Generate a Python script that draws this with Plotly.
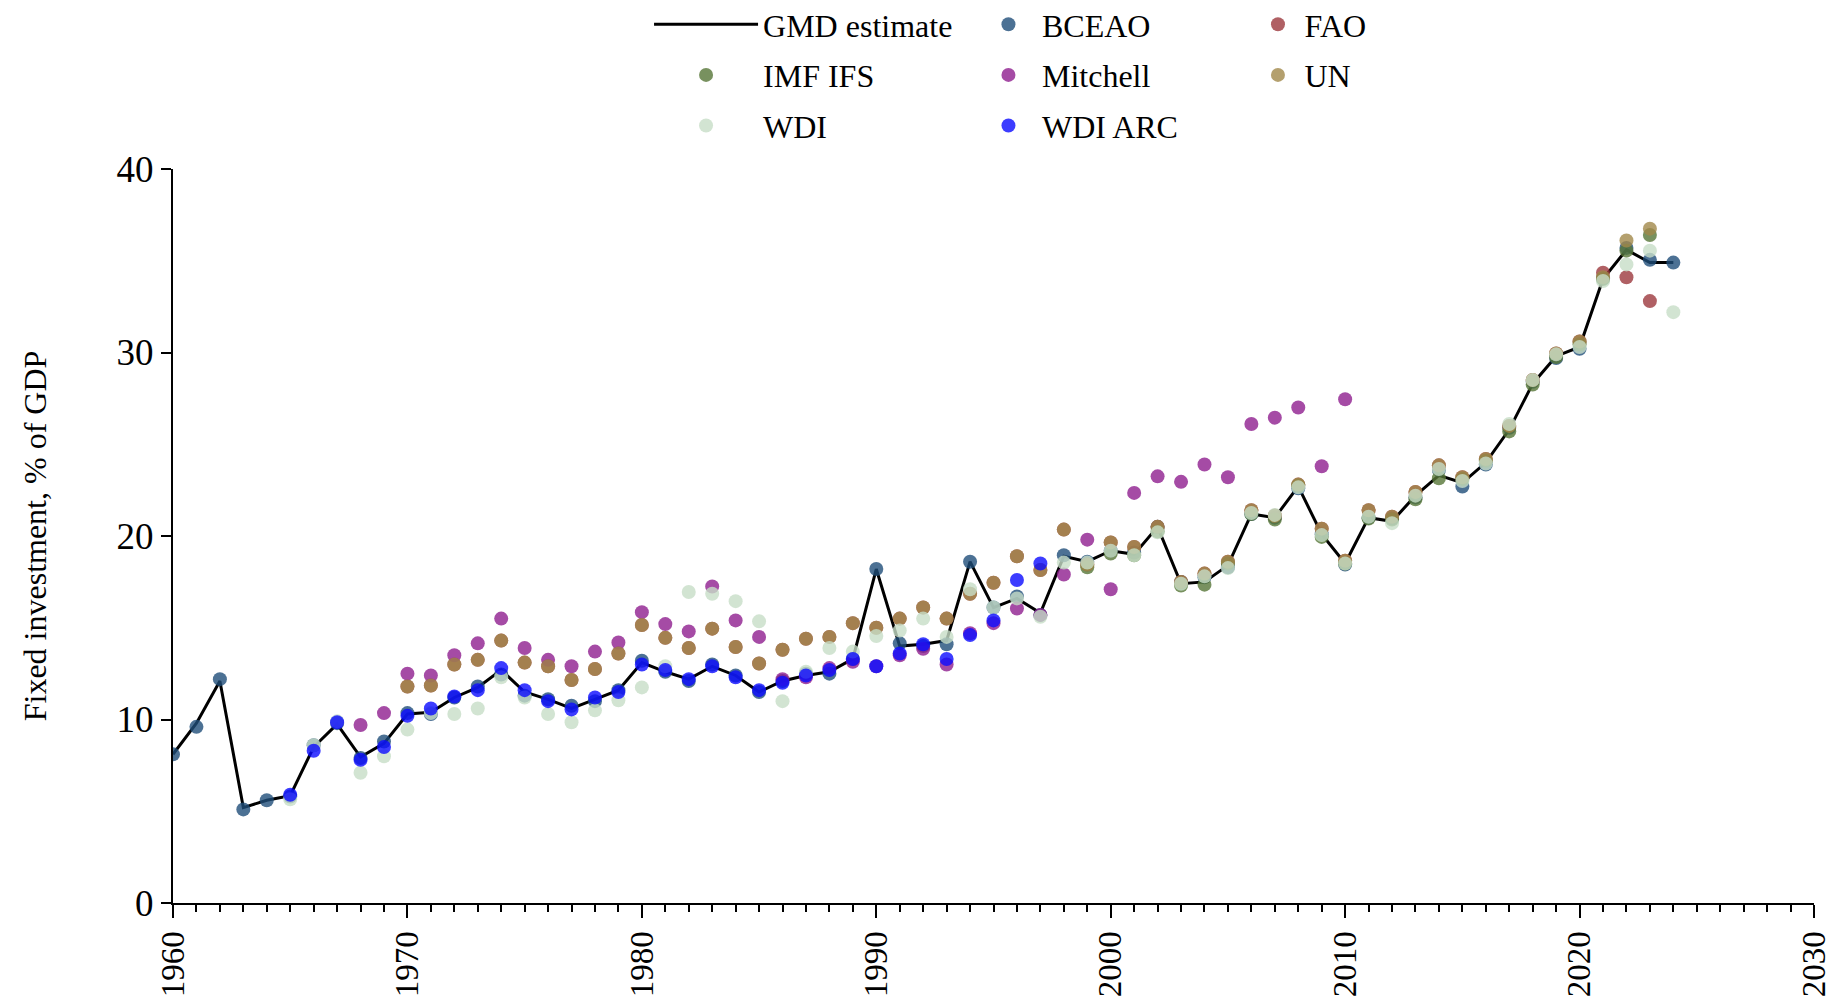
import plotly.graph_objects as go

# ---------------- data ----------------
gmd_years = list(range(1960, 2025))
gmd_values = [8.1, 9.8, 12.1, 5.2, 5.6, 5.85, 8.5, 9.75, 7.95, 8.7,
              10.3, 10.4, 11.2, 11.75, 12.7, 11.5, 11.1, 10.6, 11.1, 11.6,
              13.1, 12.6, 12.2, 12.9, 12.4, 11.5, 12.1, 12.4, 12.6, 13.3,
              18.2, 14.0, 14.1, 14.3, 18.6, 16.1, 16.6, 15.8, 18.9, 18.6,
              19.2, 19.0, 20.5, 17.4, 17.5, 18.4, 21.2, 21.0, 22.7, 20.1,
              18.5, 21.0, 20.8, 22.2, 23.3, 22.9, 24.0, 25.8, 28.3, 29.8,
              30.3, 34.0, 35.6, 34.9, 34.9]

bceao_years = list(range(1960, 2025))
bceao_values = [8.1, 9.6, 12.2, 5.1, 5.6, 5.8, 8.6, 9.8, 7.9, 8.8,
                10.35, 10.3, 11.2, 11.8, 12.45, 11.3, 11.1, 10.75, 11.0, 11.6,
                13.2, 12.6, 12.1, 13.0, 12.4, 11.5, 12.1, 12.5, 12.5, 13.3,
                18.2, 14.15, 14.0, 14.1, 18.6, 16.1, 16.7, 15.7, 18.95, 18.6,
                19.2, 19.1, 20.5, 17.5, 17.75, 18.3, 21.2, 21.0, 22.6, 20.1,
                18.45, 21.0, 20.95, 22.1, 23.6, 22.7, 23.9, 25.9, 28.4, 29.7,
                30.2, 34.05, 35.7, 35.05, 34.9]

fao_years = list(range(1970, 2024))
fao_values = [11.8, 11.85, 13.0, 13.25, 14.3, 13.1, 12.9, 12.15, 12.75, 13.6,
              15.15, 14.45, 13.9, 14.95, 13.95, 13.05, 13.8, 14.4, 14.5, 15.25,
              15.0, 15.5, 16.1, 15.5, 16.85, 17.45, 18.9, 18.15, 20.35, 18.45,
              19.65, 19.4, 20.5, 17.5, 17.95, 18.6, 21.4, 21.1, 22.8, 20.4,
              18.65, 21.4, 21.05, 22.4, 23.85, 23.2, 24.2, 26.0, 28.5, 29.95,
              30.6, 34.35, 34.1, 32.8]

imf_years = list(range(1999, 2024))
imf_values = [18.3, 19.05, 18.95, 20.25, 17.3, 17.35, 18.5, 21.2, 20.9, 22.75,
              19.95, 18.5, 20.95, 20.9, 22.0, 23.15, 23.1, 24.1, 25.7, 28.25,
              29.75, 30.45, 34.0, 35.55, 36.4]

mitchell_years = list(range(1968, 2011))
mitchell_values = [9.7, 10.35, 12.5, 12.4, 13.5, 14.15, 15.5, 13.9, 13.25, 12.9,
                   13.7, 14.2, 15.85, 15.2, 14.8, 17.25, 15.4, 14.5, 12.2, 12.3,
                   12.8, 13.15, 12.9, 13.5, 13.85, 13.0, 14.7, 15.25, 16.05, 15.7,
                   17.9, 19.8, 17.1, 22.35, 23.25, 22.95, 23.9, 23.2, 26.1, 26.45,
                   27.0, 23.8, 27.45]

un_years = list(range(1970, 2024))
un_values = [11.8, 11.85, 13.0, 13.25, 14.3, 13.1, 12.9, 12.15, 12.75, 13.6,
             15.15, 14.45, 13.9, 14.95, 13.95, 13.05, 13.8, 14.4, 14.5, 15.25,
             15.0, 15.5, 16.1, 15.5, 16.85, 17.45, 18.9, 18.15, 20.35, 18.45,
             19.65, 19.4, 20.5, 17.5, 17.95, 18.6, 21.4, 21.1, 22.8, 20.4,
             18.65, 21.4, 21.05, 22.4, 23.85, 23.2, 24.2, 26.0, 28.5, 29.95,
             30.6, 34.1, 36.1, 36.75]

wdi_years = list(range(1965, 2025))
wdi_values = [5.65, 8.6, 9.9, 7.1, 8.0, 9.45, 10.35, 10.3, 10.6, 12.3,
              11.2, 10.3, 9.85, 10.5, 11.05, 11.75, 12.9, 16.95, 16.85, 16.45,
              15.35, 11.0, 12.6, 13.9, 13.7, 14.55, 14.85, 15.5, 14.5, 17.1,
              16.1, 16.6, 15.6, 18.55, 18.55, 19.2, 18.95, 20.2, 17.4, 17.8,
              18.25, 21.25, 21.15, 22.65, 20.05, 18.5, 21.05, 20.7, 22.2, 23.65,
              23.0, 23.95, 26.1, 28.5, 29.9, 30.3, 33.9, 34.8, 35.55, 32.2]

wdiarc_years = list(range(1965, 1998))
wdiarc_values = [5.9, 8.3, 9.85, 7.8, 8.5, 10.2, 10.6, 11.25, 11.6, 12.8,
                 11.6, 11.0, 10.55, 11.2, 11.5, 13.0, 12.7, 12.2, 12.9, 12.3,
                 11.6, 12.0, 12.4, 12.7, 13.3, 12.9, 13.6, 14.1, 13.3, 14.6,
                 15.4, 17.6, 18.5]

x_tick_values = [1960, 1970, 1980, 1990, 2000, 2010, 2020, 2030]
y_tick_values = [0, 10, 20, 30, 40]

# ---------------- figure ----------------
FONT = "Liberation Serif, Times New Roman, serif"
MS = 14
OP = 0.8

fig = go.Figure()
fig.add_trace(go.Scatter(x=gmd_years, y=gmd_values, mode="lines", name="GMD estimate",
                         line=dict(color="black", width=3), legend="legend",
                         legendgroup="g0"))

# (name, years, values, colour, legend column)
point_series = [
    ("BCEAO", bceao_years, bceao_values, "#1f4e79", "legend2"),
    ("FAO", fao_years, fao_values, "#9c383d", "legend3"),
    ("IMF IFS", imf_years, imf_values, "#567637", "legend"),
    ("Mitchell", mitchell_years, mitchell_values, "#8e1e8e", "legend2"),
    ("UN", un_years, un_values, "#a1884a", "legend3"),
    ("WDI", wdi_years, wdi_values, "#c7ddc7", "legend"),
    ("WDI ARC", wdiarc_years, wdiarc_values, "#0b0bff", "legend2"),
]
for i, (name, xs, ys, col, leg) in enumerate(point_series):
    fig.add_trace(go.Scatter(x=xs, y=ys, mode="markers", name=name, legend=leg,
                             legendgroup="g%d" % (i + 1),
                             marker=dict(color=col, size=MS, opacity=OP, line=dict(width=0))))

LEG_Y = 1.2343
legend_common = dict(orientation="v", y=LEG_Y, yanchor="top", xanchor="left",
                     font=dict(family=FONT, size=32, color="black"),
                     tracegroupgap=6, bgcolor="rgba(0,0,0,0)", traceorder="grouped")

fig.update_layout(
    width=1829, height=1000,
    paper_bgcolor="white", plot_bgcolor="white",
    margin=dict(l=165, r=23, t=161, b=105, autoexpand=False),
    font=dict(family=FONT, color="black", size=30),
    showlegend=True,
    legend=dict(x=0.2901, itemwidth=104, **legend_common),
    legend2=dict(x=0.4887, itemwidth=57, **legend_common),
    legend3=dict(x=0.6572, itemwidth=43, **legend_common),
)
fig.update_xaxes(range=[1960, 2030], tickvals=x_tick_values, ticktext=[str(v) for v in x_tick_values],
                 tickangle=-90, ticks="outside", ticklen=13, tickwidth=2, tickcolor="black",
                 showline=True, linecolor="black", linewidth=2, showgrid=False, zeroline=False,
                 tickfont=dict(family=FONT, size=33, color="black"),
                 minor=dict(dtick=1, tick0=1960, ticks="outside", ticklen=7, tickwidth=1.5,
                            tickcolor="black", showgrid=False))
fig.update_yaxes(range=[0, 40], tickvals=y_tick_values, ticks="outside", ticklen=10, tickwidth=2,
                 tickcolor="black", showline=True, linecolor="black", linewidth=2,
                 showgrid=False, zeroline=False,
                 tickfont=dict(family=FONT, size=37, color="black"),
                 title=dict(text="Fixed investment, % of GDP", standoff=60,
                            font=dict(family=FONT, size=32, color="black")))

fig.write_html("out.html")
